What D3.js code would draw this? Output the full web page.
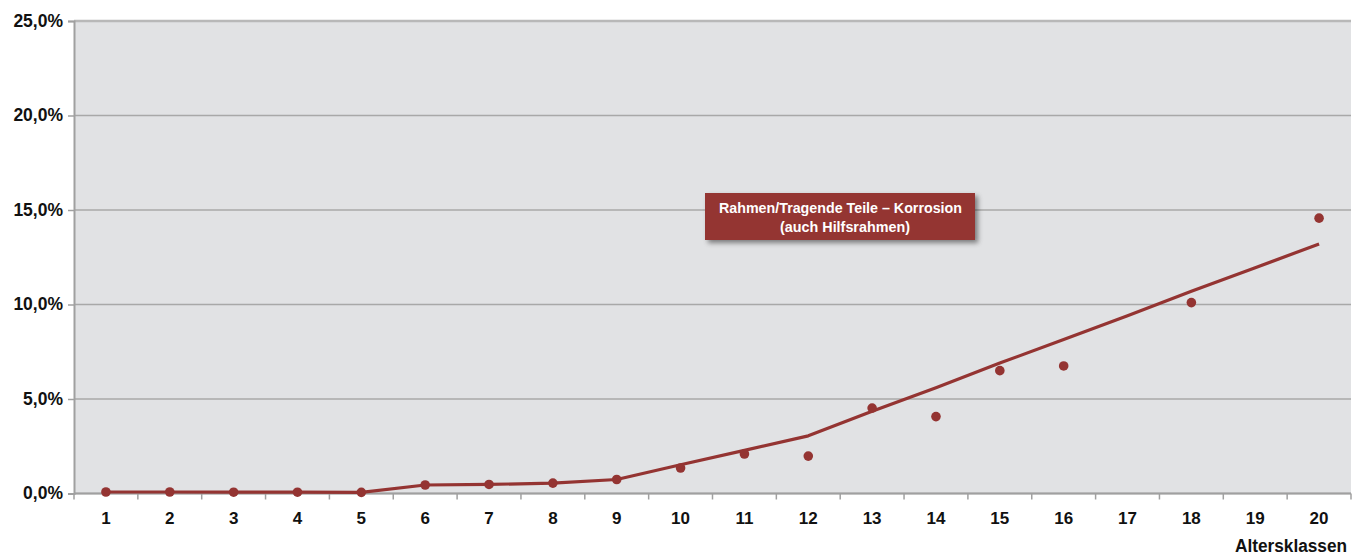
<!DOCTYPE html>
<html>
<head>
<meta charset="utf-8">
<script src="https://cdn.jsdelivr.net/npm/d3@7"></script>
<style>
  body { margin: 0; background: #fff; }
  text { font-family: "Liberation Sans", Arial, sans-serif; font-weight: bold; }
</style>
</head>
<body>
<div id="chart"></div>
<script>
// Altersklassen 1..20
const classes = d3.range(1, 21).map(String);
// observed shares (%) - null where no point is shown
const observed = [0.08, 0.08, 0.07, 0.07, 0.06, 0.45, 0.48, 0.55, 0.74, 1.35,
                  2.09, 1.98, 4.52, 4.07, 6.5, 6.75, null, 10.1, null, 14.57];
// smoothed trend line (%)
const trend = [0.08, 0.08, 0.07, 0.07, 0.06, 0.45, 0.48, 0.55, 0.74, 1.52,
               2.28, 3.05, 4.35, 5.6, 6.9, 8.15, 9.4, 10.7, 11.95, 13.2];
const yTicks = [0, 5, 10, 15, 20, 25];
const labelLines = ["Rahmen/Tragende Teile – Korrosion", "(auch Hilfsrahmen)"];

const width = 1359, height = 558;
const margin = {top: 21, right: 8, bottom: 64.5, left: 74};
const red = "#943432";

const svg = d3.select("#chart").append("svg")
  .attr("width", width).attr("height", height);

const x = d3.scaleBand().domain(classes).range([margin.left, width - margin.right]);
const y = d3.scaleLinear().domain([0, 25]).range([height - margin.bottom, margin.top]);

// plot background
svg.append("rect")
  .attr("x", margin.left).attr("y", y(25))
  .attr("width", x.range()[1] - margin.left)
  .attr("height", y(0) - y(25))
  .attr("fill", "#e1e2e4");

// gridlines
svg.append("g").selectAll("line").data(yTicks).join("line")
  .attr("x1", margin.left).attr("x2", x.range()[1])
  .attr("y1", d => y(d)).attr("y2", d => y(d))
  .attr("stroke", d => d === 25 ? "#b8b8b8" : "#a8a8a8")
  .attr("stroke-width", d => d === 25 ? 2.5 : 1.5);

// y axis
const yAxis = d3.axisLeft(y).tickValues(yTicks).tickSize(6).tickPadding(5)
  .tickFormat(d => d.toFixed(1).replace(".", ",") + "%");
const gy = svg.append("g").attr("transform", `translate(${margin.left},0)`).call(yAxis);
gy.select(".domain").attr("stroke", "#a0a0a0").attr("stroke-width", 2);
gy.selectAll(".tick line").attr("stroke", "#a0a0a0").attr("stroke-width", 1.5);
gy.selectAll(".tick text").attr("font-size", 17.5).attr("fill", "#111")
  .attr("font-family", null).attr("dy", "0.3em");
gy.attr("font-family", null).attr("font-size", null);

// x axis - ticks at band boundaries
const gx = svg.append("g").attr("transform", `translate(0,${y(0)})`);
gx.append("line").attr("x1", margin.left).attr("x2", x.range()[1])
  .attr("stroke", "#a0a0a0").attr("stroke-width", 2);
const bounds = classes.map(c => x(c)).concat([x.range()[1]]);
gx.selectAll(".bt").data(bounds).join("line").attr("class", "bt")
  .attr("x1", d => d).attr("x2", d => d).attr("y1", 0).attr("y2", 6)
  .attr("stroke", "#a0a0a0").attr("stroke-width", 1.5);
gx.selectAll(".xt").data(classes).join("text").attr("class", "xt")
  .attr("x", d => x(d) + x.bandwidth() / 2).attr("y", 30)
  .attr("text-anchor", "middle")
  .attr("font-size", 17).attr("fill", "#111")
  .text(d => d);

svg.append("text")
  .attr("x", 1235).attr("y", 552)
  .attr("font-size", 18).attr("fill", "#111")
  .attr("textLength", 112).attr("lengthAdjust", "spacingAndGlyphs")
  .text("Altersklassen");

// trend line
const line = d3.line()
  .x((d, i) => x(classes[i]) + x.bandwidth() / 2)
  .y(d => y(d));
svg.append("path").datum(trend)
  .attr("d", line).attr("fill", "none")
  .attr("stroke", red).attr("stroke-width", 3.2).attr("stroke-linejoin", "round");

// observed points
svg.append("g").selectAll("circle")
  .data(observed.map((v, i) => ({c: classes[i], v})).filter(d => d.v !== null))
  .join("circle")
  .attr("cx", d => x(d.c) + x.bandwidth() / 2)
  .attr("cy", d => y(d.v))
  .attr("r", 4.8).attr("fill", red);

// label box
const defs = svg.append("defs");
const f = defs.append("filter").attr("id", "sh").attr("x", "-10%").attr("y", "-20%")
  .attr("width", "130%").attr("height", "160%");
f.append("feDropShadow").attr("dx", 3).attr("dy", 3).attr("stdDeviation", 2.5)
  .attr("flood-color", "#000").attr("flood-opacity", 0.45);
const lb = svg.append("g");
lb.append("rect").attr("x", 705).attr("y", 193).attr("width", 270).attr("height", 47)
  .attr("fill", red).attr("filter", "url(#sh)");
lb.selectAll("text").data(labelLines).join("text")
  .attr("x", (d, i) => i === 0 ? 719 : 780).attr("y", (d, i) => 213 + i * 19)
  .attr("font-size", 15.5).attr("fill", "#fff")
  .attr("textLength", (d, i) => i === 0 ? 243 : 130)
  .attr("lengthAdjust", "spacingAndGlyphs")
  .text(d => d);
</script>
</body>
</html>
